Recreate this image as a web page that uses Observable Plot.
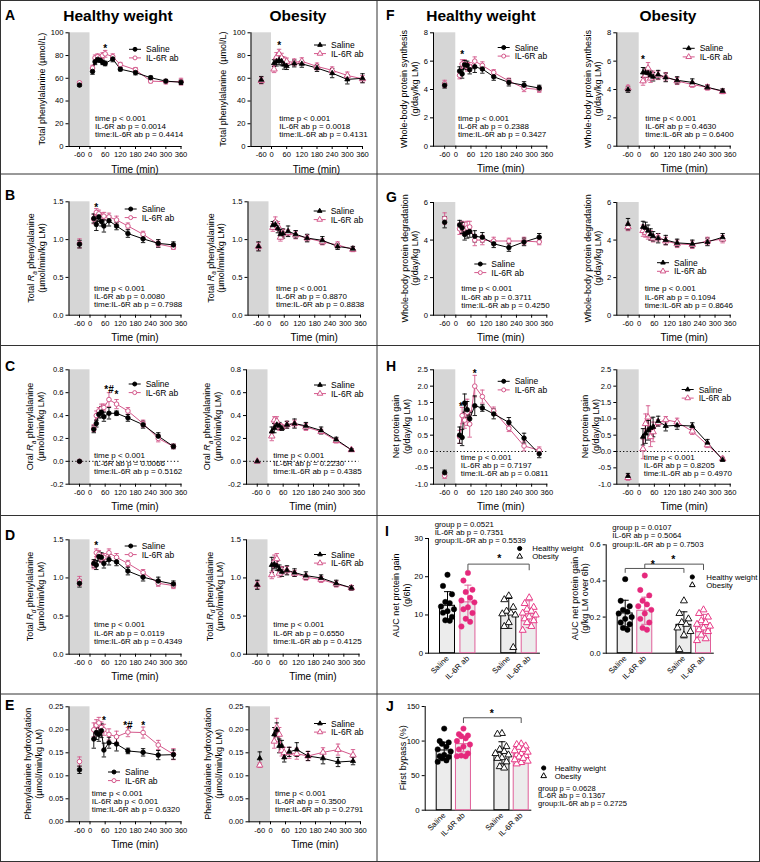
<!DOCTYPE html>
<html><head><meta charset="utf-8">
<script src="https://cdn.jsdelivr.net/npm/d3@7"></script>
<script src="https://cdn.jsdelivr.net/npm/@observablehq/plot@0.6"></script>
<style>
html,body{margin:0;padding:0;background:#fff;}
#chart{position:relative;width:760px;height:862px;overflow:hidden;background:#fff;}
#chart svg{position:absolute;left:0;top:0;}
</style></head><body><div id="chart"></div><script>
// ---------------- DATA ----------------
const T_BASE = -60;
const T_PLASMA = [10, 20, 30, 40, 50, 60, 90, 120, 180, 240, 300, 360];
const T_FLUX = [15, 25, 35, 45, 55, 75, 105, 150, 210, 270, 330];
const X_DOMAIN = [-120, 0, 360];
const X_TICKS = [-60, 0, 60, 120, 180, 240, 300, 360];

// A: total phenylalanine (umol/L)
const A_hw_sal = [66, 74.5, 76.5, 76, 74, 73, 77, 68, 65, 60.5, 57.5, 56.5];
const A_hw_salE = [2.5, 2.5, 2, 2, 2, 2, 2.5, 1.5, 2, 1.5, 1.5, 2];
const A_hw_il = [69, 78, 79, 78, 80, 81.5, 79, 72, 67.5, 57.5, 57, 57];
const A_hw_ilE = [2.5, 2.5, 2.5, 2.5, 2.5, 3, 2.5, 2, 2, 1.5, 2, 3];
const A_hw_base = [54, 56], A_hw_baseE = [1, 1.2];
const A_ob_sal = [73.3, 74.8, 76, 75, 72, 70.7, 73, 72.7, 69, 64.5, 59, 60];
const A_ob_salE = [3, 4, 4, 4, 4, 3, 3, 3, 3, 4, 4, 4];
const A_ob_il = [68, 78.6, 81.5, 78, 75.7, 74.8, 74, 75, 70.4, 67, 62.5, 59.5];
const A_ob_ilE = [3, 4, 4, 4, 3, 3, 3, 3, 3, 3, 3, 3];
const A_ob_base = [58.6, 58], A_ob_baseE = [3, 3];

// B: total Ra
const B_hw_sal = [1.28, 1.20, 1.30, 1.24, 1.18, 1.25, 1.18, 1.08, 1.01, 0.95, 0.93];
const B_hw_salE = [0.06, 0.08, 0.06, 0.06, 0.08, 0.07, 0.05, 0.05, 0.05, 0.05, 0.04];
const B_hw_il = [1.27, 1.36, 1.34, 1.30, 1.31, 1.30, 1.26, 1.18, 1.07, 0.94, 0.90];
const B_hw_ilE = [0.06, 0.05, 0.05, 0.05, 0.05, 0.05, 0.05, 0.04, 0.04, 0.04, 0.03];
const B_hw_base = [0.94, 0.95], B_hw_baseE = [0.05, 0.06];
const B_ob_sal = [1.19, 1.20, 1.15, 1.07, 1.08, 1.11, 1.07, 1.02, 0.99, 0.91, 0.88];
const B_ob_salE = [0.05, 0.05, 0.06, 0.06, 0.06, 0.07, 0.05, 0.05, 0.05, 0.04, 0.03];
const B_ob_il = [1.16, 1.23, 1.18, 1.03, 1.09, 1.09, 1.06, 1.02, 0.97, 0.93, 0.87];
const B_ob_ilE = [0.05, 0.07, 0.06, 0.05, 0.05, 0.04, 0.05, 0.04, 0.04, 0.04, 0.03];
const B_ob_base = [0.91, 0.91], B_ob_baseE = [0.06, 0.05];

// C: oral Ra
const C_hw_sal = [0.28, 0.33, 0.41, 0.43, 0.39, 0.42, 0.42, 0.38, 0.32, 0.22, 0.13];
const C_hw_salE = [0.03, 0.03, 0.03, 0.05, 0.04, 0.05, 0.02, 0.03, 0.03, 0.03, 0.02];
const C_hw_il = [0.29, 0.40, 0.44, 0.46, 0.47, 0.54, 0.50, 0.44, 0.33, 0.20, 0.13];
const C_hw_ilE = [0.03, 0.04, 0.03, 0.04, 0.03, 0.06, 0.04, 0.03, 0.03, 0.03, 0.02];
const C_hw_base = [0, 0], C_hw_baseE = [0, 0];
const C_ob_sal = [0.26, 0.29, 0.32, 0.31, 0.29, 0.32, 0.33, 0.31, 0.27, 0.19, 0.10];
const C_ob_salE = [0.04, 0.04, 0.03, 0.03, 0.02, 0.03, 0.04, 0.03, 0.03, 0.02, 0.01];
const C_ob_il = [0.22, 0.36, 0.35, 0.30, 0.30, 0.32, 0.33, 0.30, 0.26, 0.18, 0.10];
const C_ob_ilE = [0.04, 0.03, 0.04, 0.03, 0.02, 0.03, 0.03, 0.03, 0.02, 0.02, 0.01];
const C_ob_base = [0, 0], C_ob_baseE = [0, 0];

// D: total Rd
const D_hw_sal = [1.19, 1.17, 1.28, 1.27, 1.19, 1.24, 1.21, 1.09, 1.01, 0.96, 0.92];
const D_hw_salE = [0.05, 0.06, 0.06, 0.06, 0.06, 0.07, 0.05, 0.05, 0.05, 0.05, 0.04];
const D_hw_il = [1.17, 1.33, 1.31, 1.25, 1.27, 1.33, 1.27, 1.19, 1.07, 0.93, 0.90];
const D_hw_ilE = [0.05, 0.05, 0.05, 0.05, 0.05, 0.05, 0.05, 0.04, 0.04, 0.04, 0.04];
const D_hw_base = [0.93, 0.96], D_hw_baseE = [0.05, 0.06];
const D_ob_sal = [1.17, 1.18, 1.16, 1.11, 1.08, 1.10, 1.07, 1.03, 1.00, 0.93, 0.87];
const D_ob_salE = [0.10, 0.06, 0.06, 0.06, 0.06, 0.06, 0.05, 0.05, 0.04, 0.04, 0.03];
const D_ob_il = [1.04, 1.22, 1.25, 1.06, 1.10, 1.10, 1.06, 1.01, 0.98, 0.92, 0.87];
const D_ob_ilE = [0.05, 0.08, 0.07, 0.05, 0.05, 0.05, 0.04, 0.04, 0.04, 0.04, 0.03];
const D_ob_base = [0.91, 0.91], D_ob_baseE = [0.06, 0.05];

// E: phenylalanine hydroxylation
const E_hw_sal = [0.180, 0.194, 0.190, 0.198, 0.156, 0.172, 0.169, 0.154, 0.151, 0.145, 0.146];
const E_hw_salE = [0.02, 0.015, 0.015, 0.015, 0.015, 0.012, 0.015, 0.006, 0.008, 0.01, 0.01];
const E_hw_il = [0.200, 0.210, 0.215, 0.205, 0.200, 0.190, 0.185, 0.195, 0.194, 0.167, 0.147];
const E_hw_ilE = [0.015, 0.012, 0.012, 0.012, 0.012, 0.012, 0.012, 0.01, 0.012, 0.01, 0.012];
const E_hw_base = [0.113, 0.131], E_hw_baseE = [0.008, 0.01];
const E_ob_sal = [0.190, 0.200, 0.165, 0.165, 0.140, 0.152, 0.157, 0.143, 0.138, 0.130, 0.132];
const E_ob_salE = [0.015, 0.015, 0.015, 0.012, 0.01, 0.01, 0.015, 0.01, 0.012, 0.01, 0.008];
const E_ob_il = [0.175, 0.205, 0.190, 0.155, 0.150, 0.150, 0.148, 0.143, 0.151, 0.157, 0.145];
const E_ob_ilE = [0.015, 0.02, 0.015, 0.012, 0.012, 0.012, 0.012, 0.01, 0.01, 0.012, 0.012];
const E_ob_base = [0.138, 0.123], E_ob_baseE = [0.014, 0.005];

// F: whole-body protein synthesis
const F_hw_sal = [5.3, 5.1, 5.75, 5.7, 5.4, 5.6, 5.45, 4.9, 4.5, 4.3, 4.1];
const F_hw_salE = [0.3, 0.3, 0.3, 0.3, 0.3, 0.4, 0.3, 0.25, 0.25, 0.25, 0.2];
const F_hw_il = [5.0, 5.8, 5.8, 5.6, 5.6, 6.0, 5.7, 5.2, 4.6, 4.1, 4.0];
const F_hw_ilE = [0.25, 0.3, 0.3, 0.3, 0.3, 0.3, 0.25, 0.2, 0.2, 0.25, 0.2];
const F_hw_base = [4.3, 4.4], F_hw_baseE = [0.2, 0.25];
const F_ob_sal = [5.2, 5.2, 5.15, 5.0, 4.9, 5.05, 4.85, 4.65, 4.5, 4.15, 3.9];
const F_ob_salE = [0.35, 0.3, 0.3, 0.3, 0.3, 0.3, 0.3, 0.25, 0.25, 0.15, 0.15];
const F_ob_il = [4.6, 5.0, 5.5, 4.8, 5.0, 5.0, 4.9, 4.6, 4.35, 4.15, 3.85];
const F_ob_ilE = [0.3, 0.4, 0.4, 0.3, 0.3, 0.3, 0.3, 0.25, 0.2, 0.2, 0.15];
const F_ob_base = [4.0, 4.1], F_ob_baseE = [0.2, 0.2];

// G: whole-body protein degradation
const G_hw_sal = [4.8, 4.65, 4.3, 4.4, 4.45, 4.2, 4.15, 3.8, 3.6, 3.9, 4.15];
const G_hw_salE = [0.25, 0.3, 0.3, 0.3, 0.3, 0.3, 0.25, 0.2, 0.2, 0.2, 0.2];
const G_hw_il = [4.6, 4.7, 4.6, 4.65, 4.7, 4.0, 4.0, 3.95, 3.95, 3.95, 3.9];
const G_hw_ilE = [0.3, 0.3, 0.35, 0.35, 0.3, 0.3, 0.25, 0.2, 0.15, 0.2, 0.15];
const G_hw_base = [4.95, 5.15], G_hw_baseE = [0.3, 0.3];
const G_ob_sal = [4.7, 4.65, 4.5, 4.3, 4.2, 4.1, 4.0, 3.85, 3.8, 3.9, 4.15];
const G_ob_salE = [0.3, 0.3, 0.3, 0.3, 0.25, 0.25, 0.25, 0.2, 0.2, 0.2, 0.2];
const G_ob_il = [4.5, 4.4, 4.3, 4.25, 4.1, 4.15, 3.95, 3.8, 3.75, 3.95, 4.05];
const G_ob_ilE = [0.3, 0.25, 0.25, 0.25, 0.2, 0.2, 0.2, 0.2, 0.2, 0.2, 0.2];
const G_ob_base = [4.85, 4.7], G_ob_baseE = [0.3, 0.2];

// H: net protein gain
const H_hw_sal = [0.50, 0.43, 1.48, 1.28, 1.00, 1.40, 1.33, 1.15, 0.89, 0.41, -0.07];
const H_hw_salE = [0.25, 0.25, 0.28, 0.25, 0.2, 0.3, 0.1, 0.15, 0.15, 0.15, 0.12];
const H_hw_il = [0.45, 1.10, 0.96, 1.20, 0.84, 2.00, 1.68, 1.24, 0.71, 0.17, 0.04];
const H_hw_ilE = [0.2, 0.25, 0.25, 0.4, 0.4, 0.33, 0.2, 0.12, 0.1, 0.15, 0.1];
const H_hw_base = [-0.65, -0.74], H_hw_baseE = [0.08, 0.08];
const H_ob_sal = [0.45, 0.55, 0.65, 0.72, 0.75, 0.93, 0.78, 0.80, 0.78, 0.27, -0.25];
const H_ob_salE = [0.25, 0.3, 0.3, 0.3, 0.3, 0.15, 0.15, 0.12, 0.1, 0.1, 0.05];
const H_ob_il = [0.08, 0.85, 1.05, 0.45, 0.60, 0.88, 0.97, 0.90, 0.62, 0.20, -0.22];
const H_ob_ilE = [0.3, 0.3, 0.35, 0.3, 0.3, 0.1, 0.1, 0.12, 0.1, 0.08, 0.05];
const H_ob_base = [-0.75, -0.80], H_ob_baseE = [0.08, 0.08];

// significance marks
const A_hw_stars = [{t: 60, v: 88, s: "*"}];
const A_ob_stars = [{t: 30, v: 91, s: "*"}];
const B_hw_stars = [{t: 25, v: 1.46, s: "*"}];
const C_hw_stars = [{t: 75, v: 0.645, s: "*#"}, {t: 105, v: 0.60, s: "*"}];
const D_hw_stars = [{t: 25, v: 1.46, s: "*"}];
const E_hw_stars = [{t: 55, v: 0.226, s: "*"}, {t: 150, v: 0.215, s: "*#"}, {t: 210, v: 0.215, s: "*"}];
const F_hw_stars = [{t: 25, v: 6.6, s: "*"}];
const F_ob_stars = [{t: 15, v: 6.3, s: "*"}];
const H_hw_stars = [{t: 75, v: 2.45, s: "*"}, {t: 20, v: 1.43, s: "*"}];

// bar panels
const BAR_KEYS = ["HW_S", "HW_I", "gap", "OB_S", "OB_I"];
const BAR_GROUPS = ["HW_S", "HW_I", "OB_S", "OB_I"];
const BAR_LABELS = ["Saline", "IL-6R ab", "Saline", "IL-6R ab"];

const I1_mean = [12.4, 13.3, 10.4, 10.2];
const I1_sd = [3.7, 4.5, 3.9, 3.5];
const I1_pts = [
  [20.5, 17.6, 15.4, 13.4, 13.1, 12.2, 11.5, 11.0, 10.6, 9.5, 8.6, 8.5],
  [21.0, 19.0, 16.6, 16.0, 14.5, 13.8, 13.3, 12.0, 11.5, 10.5, 9.0, 8.2, 7.0],
  [15.0, 14.0, 12.0, 11.0, 10.5, 10.3, 10.0, 8.0, 7.0, 1.5],
  [14.5, 13.0, 12.0, 11.5, 11.0, 10.5, 10.0, 9.5, 9.0, 8.5, 8.0, 7.0, 6.0]
];
const I2_mean = [0.22, 0.235, 0.157, 0.155];
const I2_sd = [0.073, 0.075, 0.072, 0.06];
const I2_pts = [
  [0.41, 0.29, 0.26, 0.24, 0.23, 0.22, 0.20, 0.19, 0.17, 0.16, 0.14, 0.13],
  [0.43, 0.35, 0.32, 0.29, 0.27, 0.26, 0.24, 0.22, 0.19, 0.17, 0.14, 0.13],
  [0.29, 0.22, 0.19, 0.17, 0.16, 0.14, 0.12, 0.10, 0.02],
  [0.24, 0.22, 0.20, 0.18, 0.17, 0.16, 0.15, 0.14, 0.13, 0.12, 0.10, 0.08, 0.07]
];
const J_mean = [86.4, 95.5, 83, 81];
const J_sd = [12, 11, 16, 8];
const J_pts = [
  [118, 100, 98, 96, 92, 88, 85, 80, 78, 77, 75, 72, 70],
  [118, 110, 108, 107, 104, 100, 95, 92, 88, 82, 79, 78, 78],
  [111, 110, 92, 88, 85, 82, 80, 76, 75, 70, 63, 61],
  [96, 95, 93, 91, 88, 86, 84, 82, 80, 79, 77, 75, 73, 71, 69, 67]
];
const I1_brackets = [{from: "HW_I", to: "OB_I", y: 23.3, legA: 1.5, legB: 1.5}];
const I1_stars = [{g: "gap", v: 25.5, dx: 11}];
const I2_brackets = [{from: "HW_S", to: "OB_S", y: 0.469, legA: 0.022, legB: 0.022},
                     {from: "HW_I", to: "OB_I", y: 0.493, legA: 0.024, legB: 0.03}];
const I2_stars = [{g: "HW_I", v: 0.502, dx: 8}, {g: "gap", v: 0.53, dx: 9}];
const J_brackets = [{from: "HW_I", to: "OB_I", y: 133.7, legA: 7, legB: 7}];
const J_stars = [{g: "gap", v: 143.8, dx: 9}];

// ---------------- STYLE / LAYOUT ----------------
const W = 760, H = 862;
const FONT = '"Liberation Sans", Arial, Helvetica, sans-serif';
const INK = "#000";
const PINK = "#d4588b";
const PINK_DOT = "#e5287c";
const PINK_BAR = "#e0609a";
const SHADE = "#d6d6d6";
const BAR_FILL = "#ececec";
const CAP = {draw(ctx, size) { const w = Math.sqrt(size / Math.PI); ctx.moveTo(-w, 0); ctx.lineTo(w, 0); }};
const f0 = d => String(d), f1 = d => d.toFixed(1), f2 = d => d.toFixed(2);

const chart = document.getElementById("chart");

function timePanel(c) {
  const [xL, x0, xR] = c.x, [yTop, yBot] = c.y;
  const times = c.times;
  const S = times.map((t, i) => ({t, v: c.sal[i], e: c.salE[i]}));
  const I = times.map((t, i) => ({t, v: c.il[i], e: c.ilE[i]}));
  const Sall = [{t: T_BASE, v: c.base[0], e: c.baseE[0]}].concat(S);
  const Iall = [{t: T_BASE, v: c.base[1], e: c.baseE[1]}].concat(I);
  const sym = c.tri ? "triangle" : "circle";
  const err = (data, col) => [
    Plot.ruleX(data.filter(d => d.e > 0), {x: "t", y1: d => d.v - d.e, y2: d => d.v + d.e, stroke: col, strokeWidth: 0.9}),
    Plot.dot(data.filter(d => d.e > 0), {x: "t", y: d => d.v + d.e, symbol: CAP, r: 2.2, fill: "none", stroke: col, strokeWidth: 0.9}),
    Plot.dot(data.filter(d => d.e > 0), {x: "t", y: d => d.v - d.e, symbol: CAP, r: 2.2, fill: "none", stroke: col, strokeWidth: 0.9})
  ];
  const svg = Plot.plot({
    width: W, height: H,
    marginLeft: xL, marginRight: W - xR, marginTop: yTop, marginBottom: H - yBot,
    x: {type: "linear", domain: X_DOMAIN, range: [xL, x0, xR], label: null},
    y: {domain: c.yDomain, range: [yBot, yTop], label: null},
    style: {background: "transparent", fontFamily: FONT, fontSize: "7.6px", overflow: "visible", color: "#000"},
    marks: [
      Plot.rect([0], {x1: () => X_DOMAIN[0], x2: () => 0, y1: () => c.yDomain[0], y2: () => c.yDomain[1], fill: SHADE}),
      c.zero ? Plot.ruleY([0], {stroke: "#000", strokeDasharray: "1.2,2.2", strokeWidth: 1}) : null,
      Plot.frame({anchor: "left"}),
      Plot.frame({anchor: "bottom"}),
      Plot.axisY({ticks: c.yTicks, tickFormat: c.yFmt, tickSize: 3, tickPadding: 2.5, label: null}),
      Plot.axisX({ticks: X_TICKS, tickFormat: f0, tickSize: 3, tickPadding: 2.5, label: null}),
      ...err(Iall, PINK),
      Plot.line(I, {x: "t", y: "v", stroke: PINK, strokeWidth: 1}),
      ...err(Sall, INK),
      Plot.line(S, {x: "t", y: "v", stroke: INK, strokeWidth: 1}),
      Plot.dot(Iall, {x: "t", y: "v", symbol: sym, r: c.tri ? 2.4 : 2.3, fill: "white", stroke: PINK, strokeWidth: 1}),
      Plot.dot(Sall, {x: "t", y: "v", symbol: sym, r: c.tri ? 1.9 : 2.3, fill: INK, stroke: INK, strokeWidth: 0.8}),
      Plot.text(c.stars || [], {x: "t", y: "v", text: "s", fontSize: 10, fontWeight: "bold", dy: 2.5})
    ]
  });
  chart.appendChild(svg);
}

const JIT = [0, -4.5, 4.5, -2.2, 2.2, -6.5, 6.5];
function barPanel(c) {
  const s = (c.c4 - c.c1) / 4;
  const r0 = c.c1 - s / 2, r1 = c.c4 + s / 2;
  const ins = (s - 15) / 2;
  const [yTop, yBot] = c.y;
  const marks = [
    Plot.frame({anchor: "left"}),
    Plot.frame({anchor: "bottom"}),
    Plot.axisY({ticks: c.yTicks, tickFormat: c.yFmt, tickSize: 3, tickPadding: 2.5, label: null}),
    Plot.axisX({ticks: BAR_GROUPS, tickFormat: d => BAR_LABELS[BAR_GROUPS.indexOf(d)], tickRotate: -45, tickSize: 0, tickPadding: 4, label: null})
  ];
  const rows = BAR_GROUPS.map((g, i) => ({g, m: c.mean[i], sd: c.sd[i], i}));
  rows.forEach(r => {
    const col = r.i % 2 ? PINK_BAR : INK;
    marks.push(Plot.barY([r], {x: "g", y: "m", fill: BAR_FILL, stroke: col, strokeWidth: 1, insetLeft: ins, insetRight: ins}));
  });
  rows.forEach(r => {
    const pink = r.i % 2 === 1, ob = r.i >= 2;
    const col = pink ? PINK_BAR : INK;
    marks.push(Plot.ruleX([r], {x: "g", y1: d => d.m - d.sd, y2: d => d.m + d.sd, stroke: col, strokeWidth: 1}));
    marks.push(Plot.dot([r], {x: "g", y: d => d.m + d.sd, symbol: CAP, r: 3.5, fill: "none", stroke: col, strokeWidth: 1}));
    marks.push(Plot.dot([r], {x: "g", y: d => d.m - d.sd, symbol: CAP, r: 3.5, fill: "none", stroke: col, strokeWidth: 1}));
    const pts = c.pts[r.i];
    JIT.forEach((dx, j) => {
      const sub = pts.filter((v, k) => k % JIT.length === j);
      marks.push(Plot.dot(sub, {
        x: () => r.g, y: d => d, dx,
        symbol: ob ? "triangle" : "circle", r: ob ? 2.6 : 2.7,
        fill: ob ? "white" : (pink ? PINK_DOT : INK),
        stroke: pink ? PINK_DOT : INK, strokeWidth: ob ? 0.9 : 0.5
      }));
    });
  });
  c.brackets.forEach(b => {
    marks.push(Plot.line([
      {g: b.from, v: b.y - b.legA}, {g: b.from, v: b.y}, {g: b.to, v: b.y}, {g: b.to, v: b.y - b.legB}
    ], {x: "g", y: "v", stroke: "#555", strokeWidth: 1}));
  });
  c.stars.forEach(st => {
    marks.push(Plot.text([st], {x: "g", y: "v", text: () => "*", dx: st.dx, dy: 2.5, fontSize: 10.5, fontWeight: "bold"}));
  });
  const svg = Plot.plot({
    width: W, height: H,
    marginLeft: c.axisX, marginRight: W - r1, marginTop: yTop, marginBottom: H - yBot,
    x: {type: "band", domain: BAR_KEYS, range: [r0, r1], padding: 0, round: false, label: null},
    y: {domain: c.yDomain, range: [yBot, yTop], label: null},
    style: {background: "transparent", fontFamily: FONT, fontSize: "7.8px", overflow: "visible", color: "#000"},
    marks
  });
  chart.appendChild(svg);
}

// ---------------- PANELS ----------------
const ROW = {A: [32.3, 146], B: [201.3, 314.7], C: [369.3, 483.7], D: [539.3, 653.7], E: [706.3, 821.3],
             F: [32.3, 145.7], G: [202, 314.7], H: [369.3, 483.7]};
const LHW = [68.5, 89.5, 180.5];
const RHW = [433, 455.3, 546.3], ROB = [616.3, 638.7, 729.7];

const panels = [
  {k: "A", x: LHW, y: ROW.A, yDomain: [0, 100], yTicks: [0, 20, 40, 60, 80, 100], yFmt: f0, times: T_PLASMA, sal: A_hw_sal, salE: A_hw_salE, il: A_hw_il, ilE: A_hw_ilE, base: A_hw_base, baseE: A_hw_baseE, stars: A_hw_stars},
  {k: "A", x: [250.5, 271, 362], y: ROW.A, yDomain: [0, 100], yTicks: [0, 20, 40, 60, 80, 100], yFmt: f0, times: T_PLASMA, sal: A_ob_sal, salE: A_ob_salE, il: A_ob_il, ilE: A_ob_ilE, base: A_ob_base, baseE: A_ob_baseE, stars: A_ob_stars, tri: true},
  {k: "B", x: LHW, y: ROW.B, yDomain: [0, 1.5], yTicks: [0, 0.5, 1, 1.5], yFmt: f1, times: T_FLUX, sal: B_hw_sal, salE: B_hw_salE, il: B_hw_il, ilE: B_hw_ilE, base: B_hw_base, baseE: B_hw_baseE, stars: B_hw_stars},
  {k: "B", x: [247.5, 268.5, 360], y: ROW.B, yDomain: [0, 1.5], yTicks: [0, 0.5, 1, 1.5], yFmt: f1, times: T_FLUX, sal: B_ob_sal, salE: B_ob_salE, il: B_ob_il, ilE: B_ob_ilE, base: B_ob_base, baseE: B_ob_baseE, tri: true},
  {k: "C", x: LHW, y: ROW.C, yDomain: [-0.2, 0.8], yTicks: [-0.2, 0, 0.2, 0.4, 0.6, 0.8], yFmt: f1, times: T_FLUX, sal: C_hw_sal, salE: C_hw_salE, il: C_hw_il, ilE: C_hw_ilE, base: C_hw_base, baseE: C_hw_baseE, stars: C_hw_stars, zero: true},
  {k: "C", x: [246, 267.5, 358.5], y: ROW.C, yDomain: [-0.2, 0.8], yTicks: [-0.2, 0, 0.2, 0.4, 0.6, 0.8], yFmt: f1, times: T_FLUX, sal: C_ob_sal, salE: C_ob_salE, il: C_ob_il, ilE: C_ob_ilE, base: C_ob_base, baseE: C_ob_baseE, tri: true, zero: true},
  {k: "D", x: LHW, y: ROW.D, yDomain: [0, 1.5], yTicks: [0, 0.5, 1, 1.5], yFmt: f1, times: T_FLUX, sal: D_hw_sal, salE: D_hw_salE, il: D_hw_il, ilE: D_hw_ilE, base: D_hw_base, baseE: D_hw_baseE, stars: D_hw_stars},
  {k: "D", x: [246, 267.5, 358.5], y: ROW.D, yDomain: [0, 1.5], yTicks: [0, 0.5, 1, 1.5], yFmt: f1, times: T_FLUX, sal: D_ob_sal, salE: D_ob_salE, il: D_ob_il, ilE: D_ob_ilE, base: D_ob_base, baseE: D_ob_baseE, tri: true},
  {k: "E", x: LHW, y: ROW.E, yDomain: [0, 0.25], yTicks: [0, 0.05, 0.1, 0.15, 0.2, 0.25], yFmt: f2, times: T_FLUX, sal: E_hw_sal, salE: E_hw_salE, il: E_hw_il, ilE: E_hw_ilE, base: E_hw_base, baseE: E_hw_baseE, stars: E_hw_stars},
  {k: "E", x: [248.5, 270, 360], y: ROW.E, yDomain: [0, 0.25], yTicks: [0, 0.05, 0.1, 0.15, 0.2, 0.25], yFmt: f2, times: T_FLUX, sal: E_ob_sal, salE: E_ob_salE, il: E_ob_il, ilE: E_ob_ilE, base: E_ob_base, baseE: E_ob_baseE, tri: true},
  {k: "F", x: RHW, y: ROW.F, yDomain: [0, 8], yTicks: [0, 2, 4, 6, 8], yFmt: f0, times: T_FLUX, sal: F_hw_sal, salE: F_hw_salE, il: F_hw_il, ilE: F_hw_ilE, base: F_hw_base, baseE: F_hw_baseE, stars: F_hw_stars},
  {k: "F", x: ROB, y: ROW.F, yDomain: [0, 8], yTicks: [0, 2, 4, 6, 8], yFmt: f0, times: T_FLUX, sal: F_ob_sal, salE: F_ob_salE, il: F_ob_il, ilE: F_ob_ilE, base: F_ob_base, baseE: F_ob_baseE, stars: F_ob_stars, tri: true},
  {k: "G", x: RHW, y: ROW.G, yDomain: [0, 6], yTicks: [0, 2, 4, 6], yFmt: f0, times: T_FLUX, sal: G_hw_sal, salE: G_hw_salE, il: G_hw_il, ilE: G_hw_ilE, base: G_hw_base, baseE: G_hw_baseE},
  {k: "G", x: ROB, y: ROW.G, yDomain: [0, 6], yTicks: [0, 2, 4, 6], yFmt: f0, times: T_FLUX, sal: G_ob_sal, salE: G_ob_salE, il: G_ob_il, ilE: G_ob_ilE, base: G_ob_base, baseE: G_ob_baseE, tri: true},
  {k: "H", x: RHW, y: ROW.H, yDomain: [-1, 2.5], yTicks: [-1, -0.5, 0, 0.5, 1, 1.5, 2, 2.5], yFmt: f1, times: T_FLUX, sal: H_hw_sal, salE: H_hw_salE, il: H_hw_il, ilE: H_hw_ilE, base: H_hw_base, baseE: H_hw_baseE, stars: H_hw_stars, zero: true},
  {k: "H", x: ROB, y: ROW.H, yDomain: [-1, 2.5], yTicks: [-1, -0.5, 0, 0.5, 1, 1.5, 2, 2.5], yFmt: f1, times: T_FLUX, sal: H_ob_sal, salE: H_ob_salE, il: H_ob_il, ilE: H_ob_ilE, base: H_ob_base, baseE: H_ob_baseE, tri: true, zero: true}
];
panels.forEach(timePanel);

barPanel({axisX: 428, c1: 447, c4: 528.7, y: [538, 652.7], yDomain: [0, 30], yTicks: [0, 10, 20, 30], yFmt: f0, mean: I1_mean, sd: I1_sd, pts: I1_pts, brackets: I1_brackets, stars: I1_stars});
barPanel({axisX: 605.7, c1: 624.7, c4: 703, y: [544.3, 652.7], yDomain: [0, 0.6], yTicks: [0, 0.2, 0.4, 0.6], yFmt: f1, mean: I2_mean, sd: I2_sd, pts: I2_pts, brackets: I2_brackets, stars: I2_stars});
barPanel({axisX: 424.7, c1: 443.7, c4: 520.7, y: [706, 809.7], yDomain: [0, 150], yTicks: [0, 50, 100, 150], yFmt: f0, mean: J_mean, sd: J_sd, pts: J_pts, brackets: J_brackets, stars: J_stars});

// ---------------- OVERLAY TEXT ----------------
const ov = d3.create("svg").attr("width", W).attr("height", H).attr("font-family", FONT);
function label(x, y, str, size, o = {}) {
  ov.append("text").attr("x", x).attr("y", y).attr("font-size", size)
    .attr("dominant-baseline", "central").attr("text-anchor", o.anchor || "start")
    .attr("font-weight", o.bold ? "bold" : null).attr("fill", "#000").text(str);
}
function ytitle(cx, cy, lines, size = 9, lh = 10.8) {
  const t = ov.append("text").attr("transform", `translate(${cx},${cy}) rotate(-90)`)
    .attr("text-anchor", "middle").attr("font-size", size).attr("dominant-baseline", "central").attr("fill", "#000");
  lines.forEach((ln, i) => {
    const line = t.append("tspan").attr("x", 0).attr("y", (i - (lines.length - 1) / 2) * lh);
    if (typeof ln === "string") { line.text(ln); return; }
    line.append("tspan").text(ln[0]);
    line.append("tspan").attr("font-style", "italic").text("R");
    line.append("tspan").attr("font-style", "italic").attr("font-size", size * 0.72).attr("dy", size * 0.3).text(ln[1]);
    line.append("tspan").attr("dy", -size * 0.3).text(ln[2]);
  });
}
function stats(x, y, lines, gap = 8.3, size = 8) { lines.forEach((s, i) => label(x, y + i * gap, s, size)); }
function sym(cx, cy, tri, fill, stroke, r = 2.0) {
  ov.append("path").attr("d", d3.symbol(tri ? d3.symbolTriangle : d3.symbolCircle, Math.PI * r * r)())
    .attr("transform", `translate(${cx},${cy})`).attr("fill", fill).attr("stroke", stroke).attr("stroke-width", 1);
}
function legendTime(tx, y1, tri) {
  const y2 = y1 + 8.6;
  [[y1, INK, true, "Saline"], [y2, PINK, false, "IL-6R ab"]].forEach(([y, col, filled, txt]) => {
    ov.append("line").attr("x1", tx - 17).attr("x2", tx - 5).attr("y1", y).attr("y2", y).attr("stroke", col).attr("stroke-width", 1);
    sym(tx - 11, y, tri, filled ? col : "#fff", col, tri ? (filled ? 1.7 : 2.1) : 2.0);
    label(tx, y, txt, 8.5);
  });
}
function legendBar(sx, tx, y1, y2) {
  sym(sx, y1, false, INK, INK, 2.1); label(tx, y1, "Healthy weight", 7.8);
  sym(sx, y2, true, "#fff", INK, 2.1); label(tx, y2, "Obesity", 7.8);
}
function timeLabel(x, y) { label((x[1] + x[2]) / 2, y[1] + 23, "Time (min)", 10, {anchor: "middle"}); }

// borders
ov.append("rect").attr("x", 0.5).attr("y", 0.5).attr("width", W - 1).attr("height", H - 1).attr("fill", "none").attr("stroke", "#333");
ov.append("line").attr("x1", 377).attr("x2", 377).attr("y1", 0).attr("y2", H).attr("stroke", "#333");
[174, 345.5, 515.5, 694].forEach(y => ov.append("line").attr("x1", 0).attr("x2", W).attr("y1", y).attr("y2", y).attr("stroke", "#333"));

// titles & letters
label(118, 15, "Healthy weight", 15.5, {anchor: "middle", bold: true});
label(298, 15, "Obesity", 15.5, {anchor: "middle", bold: true});
label(481, 15, "Healthy weight", 15.5, {anchor: "middle", bold: true});
label(668, 15, "Obesity", 15.5, {anchor: "middle", bold: true});
[["A", 5, 15], ["B", 5, 195], ["C", 5, 366], ["D", 5, 535], ["E", 5, 705],
 ["F", 386, 15], ["G", 386, 197], ["H", 386, 366], ["I", 385, 531], ["J", 386, 706]]
  .forEach(([s, x, y]) => label(x, y, s, 14, {bold: true}));

// time labels
panels.forEach(p => timeLabel(p.x, p.y));

// y titles
const cyOf = r => (r[0] + r[1]) / 2;
ytitle(42, cyOf(ROW.A), ["Total phenylalanine (µmol/L)"]);
ytitle(223, cyOf(ROW.A), ["Total phenylalanine\u00a0 (µmol/L)"]);
ytitle(36.7, cyOf(ROW.B), [["Total ", "a", " phenylalanine"], "(µmol/min/kg LM)"]);
ytitle(216, cyOf(ROW.B), [["Total ", "a", " phenylalanine"], "(µmol/min/kg LM)"]);
ytitle(35.8, cyOf(ROW.C), [["Oral ", "a", " phenylalanine"], "(µmol/min/kg LM)"]);
ytitle(212.5, cyOf(ROW.C), [["Oral ", "a", " phenylalanine"], "(µmol/min/kg LM)"]);
ytitle(35.8, cyOf(ROW.D), [["Total ", "d", " phenylalanine"], "(µmol/min/kg LM)"]);
ytitle(215, cyOf(ROW.D), [["Total ", "d", " phenylalanine"], "(µmol/min/kg LM)"]);
ytitle(33.8, cyOf(ROW.E), ["Phenylalanine hydroxylation", "(µmol/min/kg LM)"]);
ytitle(213.5, cyOf(ROW.E), ["Phenylalanine hydroxylation", "(µmol/min/kg LM)"]);
ytitle(409.7, cyOf(ROW.F), ["Whole-body protein synthesis", "(g/day/kg LM)"]);
ytitle(593, cyOf(ROW.F), ["Whole-body protein synthesis", "(g/day/kg LM)"]);
ytitle(410, cyOf(ROW.G), ["Whole-body protein degradation", "(g/day/kg LM)"]);
ytitle(593, cyOf(ROW.G), ["Whole-body protein degradation", "(g/day/kg LM)"]);
ytitle(401.8, cyOf(ROW.H), ["Net protein gain", "(g/day/kg LM)"]);
ytitle(590.5, cyOf(ROW.H), ["Net protein gain", "(g/day/kg LM)"]);
ytitle(401.8, (538 + 652.7) / 2, ["AUC net protein gain", "(g/6h)"]);
ytitle(580, (544.3 + 652.7) / 2, ["AUC net protein gain", "(g/kg LM over 6h)"]);
ytitle(403, (706 + 809.7) / 2, ["First bypass (%)"]);

// stats
const st = (a, b, c) => [a, b, c];
stats(95, 118, st("time p < 0.001", "IL-6R ab p = 0.0014", "time:IL-6R ab p = 0.4414"));
stats(279.3, 118, st("time p < 0.001", "IL-6R ab p = 0.0018", "time:IL-6R ab p = 0.4131"));
stats(94, 288, st("time p < 0.001", "IL-6R ab p = 0.0080", "time:IL-6R ab p = 0.7988"));
stats(276, 288, st("time p < 0.001", "IL-6R ab p = 0.8870", "time:IL-6R ab p = 0.8838"));
stats(94, 455.3, st("time p < 0.001", "IL-6R ab p = 0.0066", "time:IL-6R ab p = 0.5162"));
stats(273.3, 455.3, st("time p < 0.001", "IL-6R ab p = 0.2230", "time:IL-6R ab p = 0.4385"));
stats(94, 624.7, st("time p < 0.001", "IL-6R ab p = 0.0119", "time:IL-6R ab p = 0.4349"));
stats(273.3, 624.7, st("time p < 0.001", "IL-6R ab p = 0.6550", "time:IL-6R ab p = 0.4125"));
stats(91.7, 793, st("time p < 0.001", "IL-6R ab p < 0.001", "time:IL-6R ab p = 0.6320"));
stats(275, 793, st("time p < 0.001", "IL-6R ab p = 0.3500", "time:IL-6R ab p = 0.2791"));
stats(458, 118.3, st("time p < 0.001", "IL-6R ab p = 0.2388", "time:IL-6R ab p = 0.3427"));
stats(645.3, 118.3, st("time p < 0.001", "IL-6R ab p = 0.4630", "time:IL-6R ab p = 0.6400"));
stats(461.3, 288.7, st("time p < 0.001", "IL-6R ab p = 0.3711", "time:IL-6R ab p = 0.4250"));
stats(644.7, 288.7, st("time p < 0.001", "IL-6R ab p = 0.1094", "time:IL-6R ab p = 0.8646"));
stats(460.7, 457, st("time p < 0.001", "IL-6R ab p = 0.7197", "time:IL-6R ab p = 0.0811"));
stats(643.7, 457, st("time p < 0.001", "IL-6R ab p = 0.8205", "time:IL-6R ab p = 0.4970"));
stats(434.7, 524.2, st("group p = 0.0521", "IL-6R ab p = 0.7351", "group:IL-6R ab p = 0.5539"), 8.1, 7.8);
stats(612.3, 527, st("group p = 0.0107", "IL-6R ab p = 0.5064", "group:IL-6R ab p = 0.7503"), 8.6, 7.8);
stats(538, 788, st("group p = 0.0628", "IL-6R ab p = 0.1367", "group:IL-6R ab p = 0.2725"), 7.9, 7.6);

// legends
legendTime(146, 49.3, false);
legendTime(331, 45, true);
legendTime(141.7, 209, false);
legendTime(330.7, 211, true);
legendTime(145.7, 384, false);
legendTime(331, 385, true);
legendTime(141.7, 546, false);
legendTime(331, 554.5, true);
legendTime(125, 772, false);
legendTime(331, 723.5, true);
legendTime(514.7, 47.5, false);
legendTime(699.7, 48.3, true);
legendTime(491.3, 264, false);
legendTime(674, 262.7, true);
legendTime(514.7, 381.3, false);
legendTime(698.7, 389.5, true);
legendBar(519.7, 532.3, 548.5, 556.5);
legendBar(692.3, 706.3, 577, 585);
legendBar(543.7, 554.7, 768, 776);

chart.appendChild(ov.node());
</script></body></html>
